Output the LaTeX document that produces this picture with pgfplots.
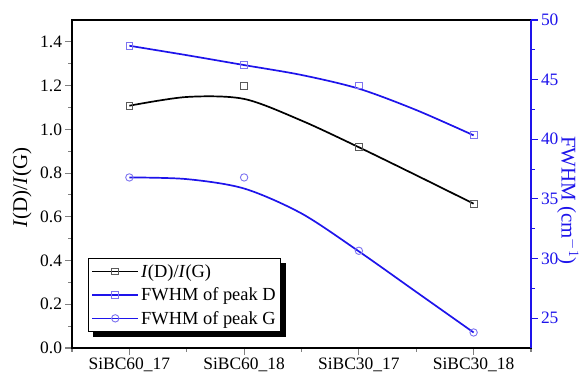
\documentclass[border=0pt]{standalone}
\usepackage{fontspec}
\setmainfont{Liberation Serif}
\usepackage{pgfplots}
\pgfplotsset{compat=1.18}
\pgfdeclarelayer{background}
\pgfsetlayers{background,main}
\definecolor{myblue}{RGB}{30,20,235}
\definecolor{mkblue}{RGB}{125,115,240}
\definecolor{mkgray}{RGB}{90,90,90}
\begin{document}
\begin{tikzpicture}
\pgfplotsset{
  every axis/.append style={
    scale only axis, width=459bp, height=328bp,
    xmin=-0.5, xmax=3.5,
    tick label style={font=\fontsize{17.5}{19}\selectfont},
    /pgf/number format/assume math mode=true,
    tick style={line width=1.1bp},
    major tick length=6.5bp, minor tick length=3.5bp,
    tick align=outside,
    axis line style={line width=1.5bp},
  }
}
\begin{axis}[
  at={(0,0)}, anchor=south west,
  ymin=0, ymax=1.5,
  xtick={0,1,2,3},
  xticklabels={SiBC60\_17,SiBC60\_18,SiBC30\_17,SiBC30\_18},
  minor xtick={-0.5,0.5,1.5,2.5,3.5},
  xtick pos=left, ytick pos=left,
  ytick={0,0.2,0.4,0.6,0.8,1.0,1.2,1.4},
  minor y tick num=1,
  yticklabel style={/pgf/number format/.cd, fixed, fixed zerofill, precision=1},
  ylabel={\textit{I}(D)/\textit{I}(G)},
  ylabel style={at={(axis description cs:-0.109,0.49)}, anchor=center, font=\fontsize{21}{23}\selectfont},
]
\addplot[black, line width=1.7bp, smooth, forget plot] coordinates {(0,1.108)(0.5,1.148)(1,1.139)(1.5,1.04)(2,0.918)(2.5,0.79)(3,0.66)};
\addplot[only marks, mark=square, mark size=3.4bp, mark options={draw=mkgray, fill=white, line width=0.9bp}, forget plot] coordinates {(0,1.108)(1,1.198)(2,0.918)(3,0.66)};
\end{axis}
\begin{axis}[
  at={(0,0)}, anchor=south west,
  ymin=22.5, ymax=50,
  axis x line=none,
  axis y line*=right,
  y axis line style={myblue},
  ytick={25,30,35,40,45,50}, minor y tick num=1,
  yticklabel style={myblue},
  ytick style={myblue},
  ylabel={FWHM (cm$^{-1}$)},
  ylabel style={myblue, at={(axis description cs:1.08,0.45)}, anchor=center, rotate=180, font=\fontsize{21}{23}\selectfont},
  legend style={at={(axis description cs:0.035,0.049)}, anchor=south west, draw=black, line width=0.7bp, fill=white,
    font=\fontsize{18.5}{20}\selectfont, row sep=5bp, inner xsep=3bp, inner ysep=4bp, name=leg},
  legend cell align=left,
  legend image code/.code={\draw[#1, mark repeat=2, mark phase=2] plot coordinates {(0bp,0bp)(23bp,0bp)(46bp,0bp)};},
]
\addplot[myblue, line width=1.7bp, smooth, forget plot] coordinates {(0,47.84)(0.5,47.05)(1,46.22)(1.5,45.39)(2,44.24)(2.5,42.45)(3,40.33)};
\addplot[only marks, mark=square, mark size=3.4bp, mark options={draw=mkblue, fill=white, line width=0.9bp}, forget plot] coordinates {(0,47.84)(1,46.22)(2,44.52)(3,40.33)};
\addplot[myblue, line width=1.7bp, smooth, forget plot] coordinates {(0,36.8)(0.5,36.66)(1,35.87)(1.5,33.78)(2,30.6)(2.5,27.2)(3,23.8)};
\addplot[only marks, mark=o, mark size=3.7bp, mark options={draw=mkblue, fill=white, line width=0.9bp}, forget plot] coordinates {(0,36.8)(1,36.8)(2,30.65)(3,23.8)};
\addlegendimage{black, line width=1.7bp, mark=square, mark options={draw=mkgray, fill=white, mark size=3.4bp, line width=0.9bp}}
\addlegendentry{\textit{I}(D)/\textit{I}(G)}
\addlegendimage{myblue, line width=1.7bp, mark=square, mark options={draw=mkblue, fill=white, mark size=3.4bp, line width=0.9bp}}
\addlegendentry{FWHM of peak D}
\addlegendimage{myblue, line width=1.7bp, mark=o, mark options={draw=mkblue, fill=white, mark size=3.7bp, line width=0.9bp}}
\addlegendentry{FWHM of peak G}
\end{axis}
\begin{pgfonlayer}{background}
\fill[black] ([shift={(5bp,-5bp)}]leg.south west) rectangle ([shift={(5bp,-5bp)}]leg.north east);
\end{pgfonlayer}
\pgfresetboundingbox
\path[use as bounding box] (-72bp,-28bp) rectangle (512bp,348bp);
\end{tikzpicture}
\end{document}
